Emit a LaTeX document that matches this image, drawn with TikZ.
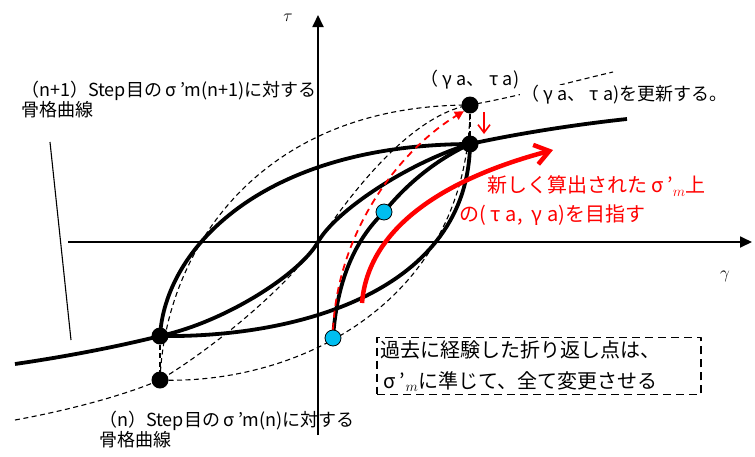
\documentclass[tikz,border=0pt]{standalone}
\usepackage{fontspec}
\setmainfont{Noto Sans CJK JP}
\newcommand{\zen}[1]{\makebox[1em]{#1}}
\usepackage{tikz}
\usetikzlibrary{positioning, arrows.meta}

\definecolor{turncyan}{RGB}{0,190,240}

\begin{document}
\begin{tikzpicture}[x=1pt, y=-1pt, line join=round,
        % Define styles for the hysteresis sketch
        axis/.style={line width=1.8pt, -{Triangle[length=12pt, width=11pt]}},
        skelcurve/.style={line width=3.8pt},
        oldcurve/.style={line width=1.1pt, dash pattern=on 5pt off 3.5pt},
        redcurve/.style={red, line width=4.5pt, -{Straight Barb[length=14pt, width=20pt]}},
        reddash/.style={red, line width=1.8pt, dash pattern=on 7pt off 5pt, -{Triangle[length=9pt, width=9pt]}},
        dot/.style={circle, fill=black, inner sep=0pt, minimum size=17pt},
        turndot/.style={circle, draw=black, line width=0.8pt, fill=turncyan, inner sep=0pt, minimum size=16pt},
        note/.style={font=\fontsize{18}{20}\selectfont, align=left, inner sep=1pt},
        rednote/.style={font=\fontsize{20}{22}\selectfont, text=red, inner sep=1pt},
        boxnote/.style={draw, line width=1.6pt, dash pattern=on 8pt off 5pt, font=\fontsize{20}{31}\selectfont, text width=318pt, align=left, inner sep=3pt}
    ]
        \useasboundingbox (0,0) rectangle (755,456);

        % --------------------------------------------------------
        % Axes
        % --------------------------------------------------------
        \coordinate (O) at (318,242);
        \coordinate (xstart) at (68,242);
        \coordinate (xend) at (752,242);
        \coordinate (ystart) at (318,435);
        \coordinate (yend) at (318,15);
        \draw[axis] (xstart) -- (xend);
        \draw[axis] (ystart) -- (yend);
        \node[font=\fontsize{16}{18}\selectfont] (gammalabel) at (725,276) {$\gamma$};
        \node[font=\fontsize{16}{18}\selectfont] (taulabel) at (288,18) {$\tau$};

        % --------------------------------------------------------
        % Reversal points
        % --------------------------------------------------------
        \coordinate (tipnew) at (470,144);
        \coordinate (tipold) at (470,105);
        \coordinate (revnew) at (160,336);
        \coordinate (revold) at (160,380);
        \coordinate (past1) at (333,338);
        \coordinate (past2) at (384,212);

        % --------------------------------------------------------
        % Old curves for sigma'm(n), dashed
        % --------------------------------------------------------
        \coordinate (oldL) at (15,420);
        \coordinate (oldR) at (613,72);
        \draw[oldcurve] (oldL) .. controls (70,410) and (125,395) .. (revold)
            .. controls (210,350) and (285,290) .. (O)
            .. controls (350,195) and (410,115) .. (tipold)
            .. controls (520,96) and (570,82) .. (oldR);
        \draw[oldcurve] (revold) .. controls (165,250) and (260,105) .. (tipold);
        \draw[oldcurve] (revold) .. controls (300,385) and (470,300) .. (tipold);
        \draw[oldcurve] (revnew) -- (revold);
        \draw[oldcurve] (tipnew) -- (tipold);

        % --------------------------------------------------------
        % New curves for sigma'm(n+1), thick
        % --------------------------------------------------------
        \coordinate (skelL) at (15,364);
        \coordinate (skelR) at (627,119);
        \draw[skelcurve] (skelL) .. controls (70,356) and (120,346) .. (revnew)
            .. controls (225,322) and (300,274) .. (O)
            .. controls (336,210) and (410,162) .. (tipnew)
            .. controls (520,133) and (580,124) .. (skelR);
        \draw[skelcurve] (revnew) .. controls (165,250) and (260,145) .. (tipnew);
        \draw[skelcurve] (revnew) .. controls (300,338) and (468,290) .. (tipnew);
        \draw[skelcurve] (past1) .. controls (337,280) and (355,240) .. (past2)
            .. controls (410,180) and (440,158) .. (tipnew);

        % leader to the new skeleton curve
        \coordinate (leadtop) at (50,142);
        \coordinate (leadend) at (71,340);
        \draw[line width=1.1pt] (leadtop) -- (leadend);

        % points
        \node[dot] (anew) at (tipnew) {};
        \node[dot] (aold) at (tipold) {};
        \node[dot] (bnew) at (revnew) {};
        \node[dot] (bold) at (revold) {};
        \node[turndot] (c1) at (past1) {};
        \node[turndot] (c2) at (past2) {};

        % --------------------------------------------------------
        % Red arrows
        % --------------------------------------------------------
        \draw[reddash] (c1.north) .. controls (338,230) and (400,150) .. (aold.south west);
        \coordinate (aimstart) at (362,303);
        \coordinate (aimend) at (553,150);
        \draw[redcurve] (aimstart) .. controls (368,230) and (440,180) .. (aimend);
        \coordinate (downtop) at (484,112);
        \coordinate (downbot) at (484,134);
        \draw[red, line width=1.6pt, -{Straight Barb[length=8pt, width=12pt]}] (downtop) -- (downbot);

        % --------------------------------------------------------
        % Texts
        % --------------------------------------------------------
        \node[note, anchor=west] (skelnewtext) at (20,100) {（n+1）Step目の\zen{σ}’m(n+1)に対する\\骨格曲線};
        \node[note, above=6pt of aold] (tipoldtext) {（\zen{γ}a、\zen{τ}a)};
        \node[note, anchor=west, fill=white] (updatetext) at (520,95) {（\zen{γ}a、\zen{τ}a)を更新する。};
        \node[rednote, anchor=west] (aimtext1) at (486,186) {新しく算出された\zen{σ}’$_m$上};
        \node[rednote, anchor=west] (aimtext2) at (458,215) {の(\zen{τ}a, \zen{γ}a)を目指す};
        \node[boxnote] (pastbox) at (539,366) {過去に経験した折り返し点は、\\\zen{σ}’$_m$に準じて、全て変更させる};
        \node[note, anchor=west] (skeloldtext) at (98,430) {（n）Step目の\zen{σ}’m(n)に対する\\骨格曲線};

    \end{tikzpicture}
\end{document}
